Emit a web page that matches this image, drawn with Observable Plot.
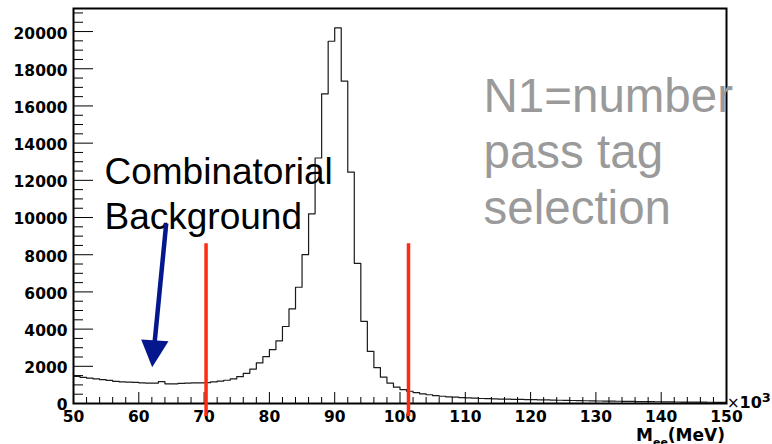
<!DOCTYPE html>
<html><head><meta charset="utf-8">
<script src="https://cdn.jsdelivr.net/npm/d3@7"></script>
<script src="https://cdn.jsdelivr.net/npm/@observablehq/plot@0.6"></script>
<style>
body{margin:0;background:#fff;}
#chart{position:relative;width:772px;height:444px;overflow:hidden;}
svg{overflow:visible;}
</style></head><body><div id="chart"></div>
<script>
// Bin lower edges (x 10^3 MeV) and counts per bin
const binEdges = [50,51,52,53,54,55,56,57,58,59,60,61,62,63,64,65,66,67,68,69,
  70,71,72,73,74,75,76,77,78,79,80,81,82,83,84,85,86,87,88,89,
  90,91,92,93,94,95,96,97,98,99,100,101,102,103,104,105,106,107,108,109,
  110,111,112,113,114,115,116,117,118,119,120,121,122,123,124,125,126,127,128,129,
  130,131,132,133,134,135,136,137,138,139,140,141,142,143,144,145,146,147,148,149];
const counts = [1460,1400,1360,1320,1280,1240,1190,1160,1150,1140,1110,1100,1100,1180,1060,1060,1080,1100,1110,1110,
  1120,1160,1200,1250,1320,1440,1620,1850,2180,2520,2900,3370,4140,5090,6250,8000,10200,13200,16650,19480,
  20200,17330,12440,7540,4420,2800,1930,1415,1100,880,750,660,590,520,470,420,390,360,340,320,
  300,285,270,258,248,240,232,225,218,212,205,198,190,182,175,168,160,153,147,141,
  135,130,125,120,115,110,105,101,97,93,89,86,82,79,76,73,70,67,64,62];
const binEnd = 150;
const xTicks = [50,60,70,80,90,100,110,120,130,140,150];
const xMinorTicks = [52,54,56,58,62,64,66,68,72,74,76,78,82,84,86,88,92,94,96,98,102,104,106,108,
  112,114,116,118,122,124,126,128,132,134,136,138,142,144,146,148];
const yTicks = [0,2000,4000,6000,8000,10000,12000,14000,16000,18000,20000];
const yMinorTicks = [500,1000,1500,2500,3000,3500,4500,5000,5500,6500,7000,7500,8500,9000,9500,
  10500,11000,11500,12500,13000,13500,14500,15000,15500,16500,17000,17500,18500,19000,19500,20500,21000];
const cutLines = [70.3, 101.3];
const cutRange = [-700, 8590];
const arrowFrom = {x: 64.2, y: 9680};
const arrowTip = {x: 62.05, y: 1950};
const labelBackground = "Combinatorial\nBackground";
const labelNote = "N1=number\npass tag\nselection";
const xUnitLabel = ["M", "ee", "(MeV)"];
const xScaleLabel = ["\u00d7", "10", "3"];

const W = 772, H = 444, mL = 73, mR = 46, mT = 8, mB = 41;
const xDomain = [50, 150], yDomain = [0, 21240];
const pxX = (xDomain[1] - xDomain[0]) / (W - mL - mR);
const pxY = (yDomain[1] - yDomain[0]) / (H - mT - mB);

const hist = binEdges.map((x, i) => ({x, y: counts[i]}));
hist.push({x: binEnd, y: counts[counts.length - 1]});

const shaftEnd = {x: arrowTip.x + 0.15 * (arrowFrom.x - arrowTip.x), y: arrowTip.y + 0.15 * (arrowFrom.y - arrowTip.y)};
const headSymbol = {draw(ctx) { ctx.moveTo(0, 0); ctx.lineTo(-11, -27.7); ctx.lineTo(16.3, -26); ctx.closePath(); }};
const navy = "#05178c";
const red = "#ff2a12";

const plot = Plot.plot({
  width: W, height: H,
  marginLeft: mL, marginRight: mR, marginTop: mT, marginBottom: mB,
  style: {fontFamily: "'DejaVu Sans', sans-serif", fontSize: "15.5px", fontWeight: "bold", background: "white", overflow: "visible", color: "black"},
  x: {domain: xDomain},
  y: {domain: yDomain},
  marks: [
    Plot.line(hist, {x: "x", y: "y", curve: "step-after", stroke: "#1a1a1a", strokeWidth: 1.2}),
    Plot.ruleY(yTicks, {x1: xDomain[0], x2: xDomain[0] + 20 * pxX, stroke: "black", strokeWidth: 1}),
    Plot.ruleY(yMinorTicks, {x1: xDomain[0], x2: xDomain[0] + 10 * pxX, stroke: "black", strokeWidth: 1}),
    Plot.ruleX(xTicks, {y1: yDomain[0], y2: yDomain[0] + 11 * pxY, stroke: "black", strokeWidth: 1}),
    Plot.ruleX(xMinorTicks, {y1: yDomain[0], y2: yDomain[0] + 6 * pxY, stroke: "black", strokeWidth: 1}),
    Plot.axisY(yTicks, {tickSize: 0, tickPadding: 6, tickFormat: d => `${d}`, label: null, dy: 2}),
    Plot.axisX(xTicks, {tickSize: 0, tickPadding: 7, tickFormat: d => `${d}`, label: null}),
    Plot.frame({stroke: "black", strokeWidth: 2}),
    Plot.text([labelBackground], {frameAnchor: "top-left", dx: 31, dy: 220, text: d => d, textAnchor: "start", lineAnchor: "bottom",
      lineHeight: 1.2, fontFamily: "'Liberation Sans', Arial, sans-serif", fontWeight: "normal", fontSize: 37, fill: "black"}),
    Plot.text([labelNote], {frameAnchor: "top-left", dx: 410, dy: 215, text: d => d, textAnchor: "start", lineAnchor: "bottom",
      lineHeight: 1.17, fontFamily: "'Liberation Sans', Arial, sans-serif", fontWeight: "normal", fontSize: 47.5, fill: "#9a9a9a"}),
    Plot.ruleX(cutLines, {y1: cutRange[0], y2: cutRange[1], stroke: red, strokeWidth: 3.5}),
    Plot.link([arrowFrom], {x1: "x", y1: "y", x2: () => shaftEnd.x, y2: () => shaftEnd.y, stroke: navy, strokeWidth: 4.5}),
    Plot.dot([arrowTip], {x: "x", y: "y", symbol: headSymbol, fill: navy, stroke: "none"})
  ]
});

const svg = d3.select(plot);
const t1 = svg.append("text").attr("x", W - mR - 1).attr("y", 441).attr("text-anchor", "end")
  .attr("font-family", "'DejaVu Sans', sans-serif").attr("font-weight", "bold").attr("font-size", 17).attr("fill", "black");
t1.append("tspan").text(xUnitLabel[0]);
t1.append("tspan").attr("font-size", 11).attr("dy", 5).text(xUnitLabel[1]);
t1.append("tspan").attr("dy", -5).text(xUnitLabel[2]);
const t2 = svg.append("text").attr("x", W - mR + 1).attr("y", 408).attr("text-anchor", "start")
  .attr("font-family", "'DejaVu Sans', sans-serif").attr("font-weight", "bold").attr("font-size", 16).attr("fill", "black");
t2.append("tspan").attr("font-weight", "normal").attr("font-size", 15).text(xScaleLabel[0]);
t2.append("tspan").text(xScaleLabel[1]);
t2.append("tspan").attr("font-size", 13).attr("dy", -6).text(xScaleLabel[2]);

document.getElementById("chart").appendChild(plot);
</script></body></html>
